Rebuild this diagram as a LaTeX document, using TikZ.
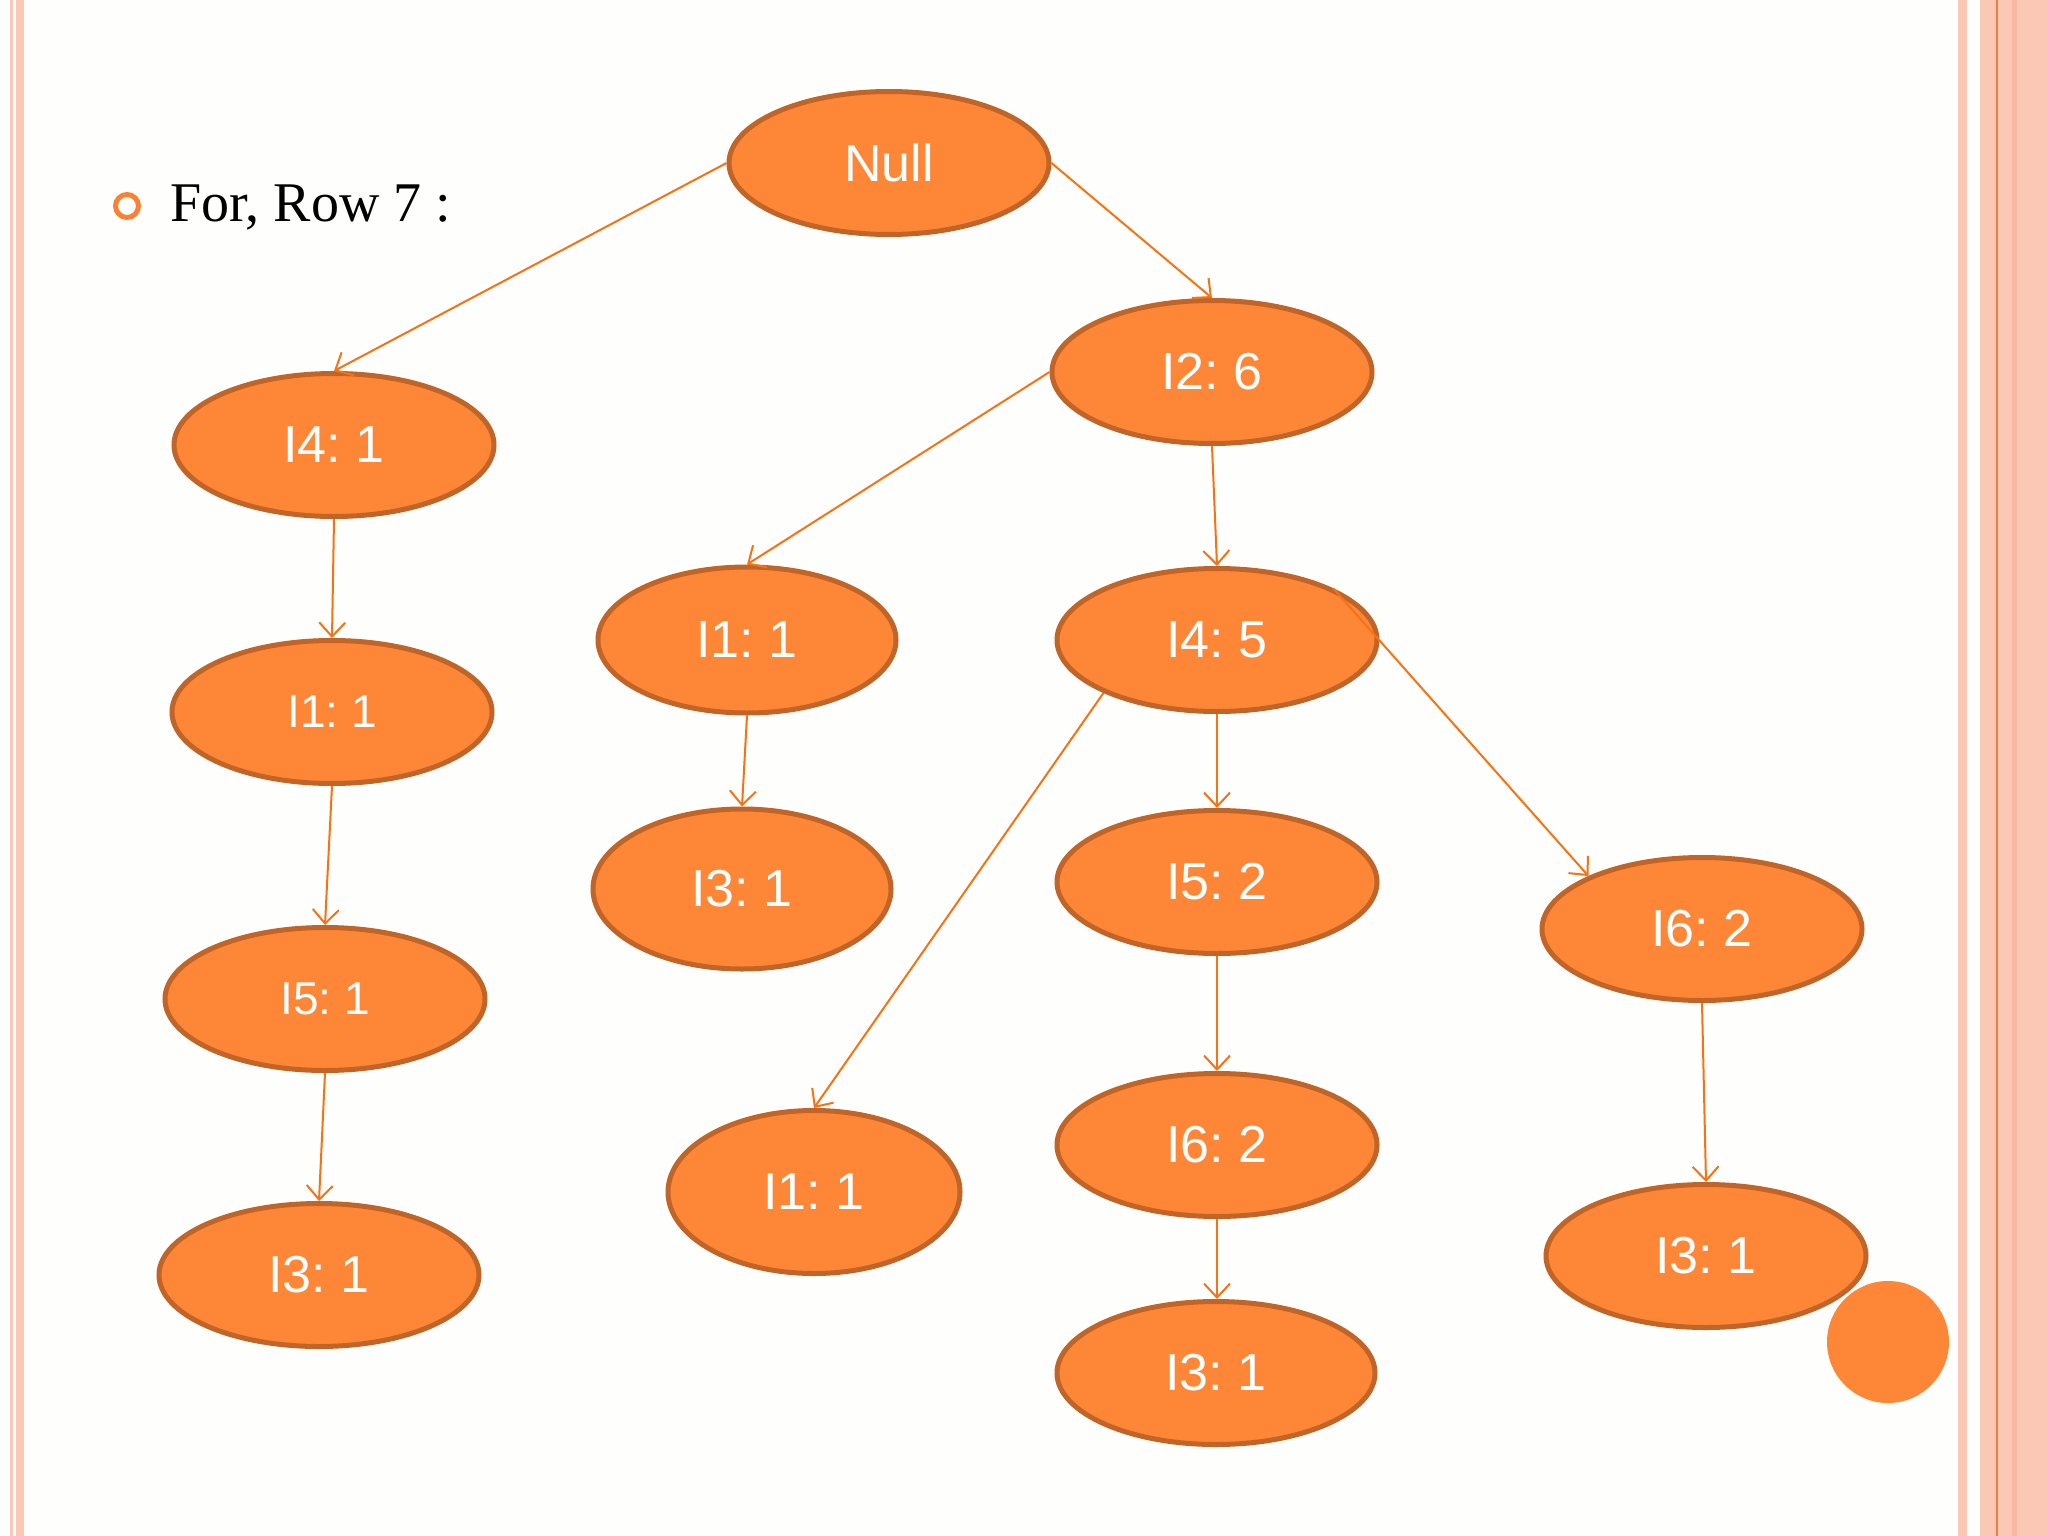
\documentclass[tikz,border=0pt]{standalone}
\usepackage{fontspec}
\setmainfont{Liberation Serif}
\newfontfamily\arialf{Liberation Sans}
\usetikzlibrary{shapes.geometric,arrows.meta}
\frenchspacing
\definecolor{bgc}{RGB}{254,254,252}
\definecolor{salmon}{RGB}{250,200,180}
\definecolor{salmondk}{RGB}{246,186,160}
\definecolor{lineor}{RGB}{238,125,70}
\definecolor{nodefill}{RGB}{253,135,55}
\definecolor{nodeedge}{RGB}{192,100,40}
\definecolor{edgec}{RGB}{245,115,20}
\definecolor{bulletc}{RGB}{250,130,50}
\tikzset{
  oval/.style={ellipse, fill=nodefill, draw=nodeedge, line width=5pt,
    minimum width=320pt, minimum height=143pt, inner sep=0pt,
    text=white, font=\arialf\frenchspacing\fontsize{52}{60}\selectfont},
  smalltxt/.style={font=\arialf\frenchspacing\fontsize{46}{54}\selectfont},
  edge/.style={draw=edgec, line width=2pt, -{Straight Barb[length=14pt,width=26pt,line width=2pt]}}
}
\begin{document}
\begin{tikzpicture}[x=1pt,y=-1pt]
\useasboundingbox (0,0) rectangle (2048,1536);
\fill[bgc] (0,0) rectangle (2048,1536);
% borders
\fill[salmon] (10,0) rectangle (12.5,1536);
\fill[salmon] (16,0) rectangle (23.5,1536);
\fill[salmon] (1958,0) rectangle (1967,1536);
\fill[salmon] (1980,0) rectangle (2048,1536);
\fill[salmondk] (2012,0) rectangle (2017,1536);
\fill[lineor] (1996,0) rectangle (1998,1536);
% bullet and title
\draw[bulletc, line width=5pt] (127,206) circle (11.5);
\node[anchor=base west, inner sep=0pt, font=\fontsize{56}{64}\selectfont] (title) at (170,221) {For, Row 7 :};
% nodes
\node[oval] (null) at (889,163) {Null};
\node[oval] (i26) at (1212,372) {I2: 6};
\node[oval] (i41) at (334,445) {I4: 1};
\node[oval, smalltxt] (i11l) at (332,712) {I1: 1};
\node[oval, smalltxt] (i51) at (325,999) {I5: 1};
\node[oval] (i31l) at (319,1275) {I3: 1};
\node[oval, minimum width=298pt, minimum height=146pt] (i11m) at (747,640) {I1: 1};
\node[oval, minimum width=298pt, minimum height=160pt] (i31m) at (742,889) {I3: 1};
\node[oval] (i45) at (1217,640) {I4: 5};
\node[oval] (i52) at (1217,882) {I5: 2};
\node[oval] (i62m) at (1217,1145) {I6: 2};
\node[oval, minimum width=318pt] (i3b) at (1216,1373) {I3: 1};
\node[oval, minimum width=292pt, minimum height=163pt] (i11b) at (814,1192) {I1: 1};
\node[oval] (i62r) at (1702,929) {I6: 2};
\node[oval] (i3r) at (1706,1256) {I3: 1};
\fill[nodefill] (1888,1342) circle (61);
% edges
\draw[edge] (null.west) -- (i41.north);
\draw[edge] (null.east) -- (i26.north);
\draw[edge] (i26.west) -- (i11m.north);
\draw[edge] (i26.south) -- (i45.north);
\draw[edge] (i41.south) -- (i11l.north);
\draw[edge] (i11l.south) -- (i51.north);
\draw[edge] (i51.south) -- (i31l.north);
\draw[edge] (i11m.south) -- (i31m.north);
\draw[edge] (i45.205) -- (i11b.north);
\draw[edge] (i45.south) -- (i52.north);
\draw[edge] (i45.24) -- (i62r.155);
\draw[edge] (i52.south) -- (i62m.north);
\draw[edge] (i62m.south) -- (i62m.south |- i3b.north);
\draw[edge] (i62r.south) -- (i3r.north);
\end{tikzpicture}
\end{document}
